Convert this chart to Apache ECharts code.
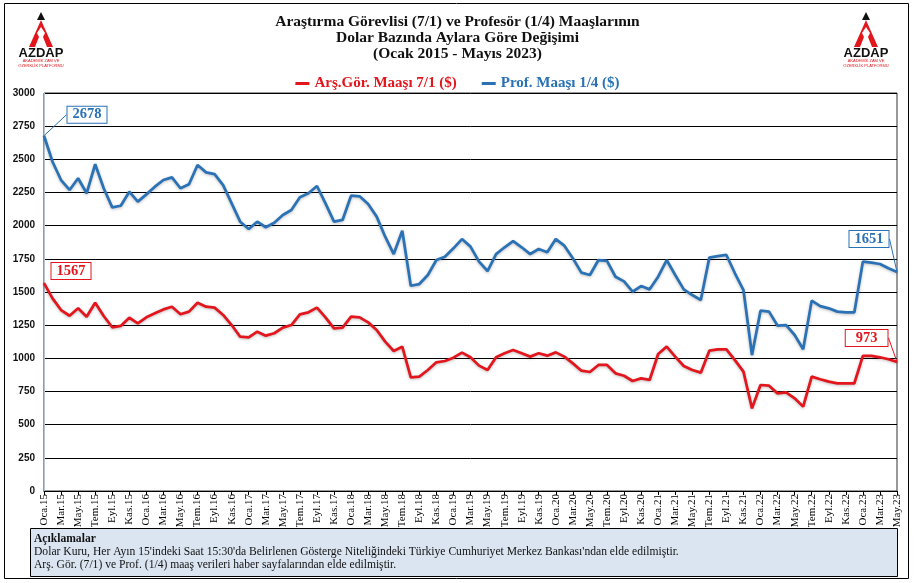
<!DOCTYPE html>
<html>
<head>
<meta charset="utf-8">
<script src="https://cdn.jsdelivr.net/npm/echarts@6/dist/echarts.min.js"></script>
<style>html,body{margin:0;padding:0;background:#fff;}#c{width:915px;height:583px;}</style>
</head>
<body>
<div id="c"></div>
<script>
var monthNames = ['Oca','Şub','Mar','Nis','May','Haz','Tem','Ağu','Eyl','Eki','Kas','Ara'];
var years = ['15','16','17','18','19','20','21','22','23'];
var yTicks = [0,250,500,750,1000,1250,1500,1750,2000,2250,2500,2750,3000];
var seriesNames = ['Arş.Gör. Maaşı 7/1 ($)', 'Prof. Maaşı 1/4 ($)'];
var arsGor = [1567,1452,1364,1321,1377,1314,1419,1319,1234,1244,
  1306,1264,1309,1339,1369,1389,1332,1352,1419,1389,
  1382,1327,1251,1163,1158,1201,1171,1189,1231,1251,
  1332,1347,1382,1309,1226,1231,1314,1309,1271,1214,
  1126,1055,1088,857,862,912,970,980,1005,1043,
  1008,945,912,1008,1038,1063,1038,1013,1038,1020,
  1045,1013,962,907,897,950,950,887,869,829,
  849,837,1033,1088,1013,942,912,892,1058,1068,
  1068,987,900,623,799,794,736,744,699,636,
  862,842,824,812,812,812,1018,1018,1008,993,
  973];
var prof = [2678,2482,2344,2269,2357,2244,2463,2282,2138,2150,
  2256,2181,2236,2294,2344,2364,2282,2312,2457,2402,
  2389,2306,2168,2030,1975,2030,1988,2022,2080,2118,
  2214,2244,2299,2168,2030,2043,2226,2221,2163,2068,
  1917,1786,1962,1547,1560,1628,1741,1766,1829,1899,
  1842,1729,1658,1786,1837,1884,1837,1786,1824,1799,
  1899,1849,1754,1646,1628,1741,1734,1615,1580,1502,
  1545,1520,1615,1741,1628,1520,1477,1440,1759,1771,
  1779,1641,1515,1025,1359,1352,1246,1251,1176,1068,
  1435,1394,1377,1352,1347,1347,1729,1721,1711,1679,
  1651];

var categories = [];
years.forEach(function (y) {
  monthNames.forEach(function (m) {
    if (categories.length < arsGor.length) categories.push(m + '.' + y);
  });
});

var RED = '#e3161d';
var BLUE = '#2a72b5';
var SERIF = '"Liberation Serif", "DejaVu Serif", serif';

function endLabel(color, pos, pad) {
  return {
    show: true, position: pos, distance: 5,
    color: color, fontFamily: SERIF, fontWeight: 'bold', fontSize: 14.5,
    backgroundColor: '#fff', borderColor: color, borderWidth: 1,
    padding: [1, pad, 0, pad]
  };
}

function buildData(values, color, firstLine, lastLine, firstPad, lastPad) {
  return values.map(function (v, i) {
    var isFirst = i === 0, isLast = i === values.length - 1;
    if (isFirst || isLast) {
      return {
        value: v, symbol: 'circle', symbolSize: 1,
        itemStyle: { color: color },
        label: endLabel(color, isFirst ? 'right' : 'left', isFirst ? firstPad : lastPad),
        labelLine: { show: isFirst ? firstLine : lastLine, lineStyle: { color: color, width: 1 } }
      };
    }
    return v;
  });
}

function logo(cx) {
  return {
    type: 'group', children: [
      { type: 'polygon', shape: { points: [[cx, 12], [cx - 4, 20], [cx + 4, 20]] }, style: { fill: '#111' } },
      { type: 'polygon', shape: { points: [[cx, 20], [cx - 12, 47], [cx - 6, 47], [cx - 2, 37], [cx - 4, 33], [cx, 27], [cx + 4, 33], [cx + 2, 37], [cx + 6, 47], [cx + 12, 47]] }, style: { fill: '#e3161d' } },
      { type: 'text', style: { x: cx, y: 53, text: 'AZDAP', fill: '#111', font: 'bold 13px "Liberation Sans", Arial, sans-serif', textAlign: 'center', textVerticalAlign: 'middle' } },
      { type: 'text', style: { x: cx, y: 61, text: 'AKADEMİK ZAM VE', fill: '#e3161d', font: '4px "Liberation Sans", sans-serif', textAlign: 'center', textVerticalAlign: 'middle' } },
      { type: 'text', style: { x: cx, y: 66, text: 'ÖZERKLİK PLATFORMU', fill: '#e3161d', font: '4px "Liberation Sans", sans-serif', textAlign: 'center', textVerticalAlign: 'middle' } }
    ]
  };
}

var chart = echarts.init(document.getElementById('c'), null, { renderer: 'canvas' });
chart.setOption({
  backgroundColor: '#fff',
  animation: false,
  title: {
    text: 'Araştırma Görevlisi (7/1) ve Profesör (1/4) Maaşlarının\nDolar Bazında Aylara Göre Değişimi\n(Ocak 2015 - Mayıs 2023)',
    left: 'center', top: 14, padding: 0,
    textStyle: { fontFamily: SERIF, fontWeight: 'bold', fontSize: 15.5, lineHeight: 16, color: '#111', align: 'center' }
  },
  legend: {
    top: 71, left: 'center', itemWidth: 14, itemHeight: 3, itemGap: 25, icon: 'rect',
    textStyle: { fontFamily: SERIF, fontWeight: 'bold', fontSize: 15 },
    data: [
      { name: seriesNames[0], textStyle: { color: RED } },
      { name: seriesNames[1], textStyle: { color: BLUE } }
    ]
  },
  grid: { left: 44, right: 18, top: 93, bottom: 92, show: true, borderColor: '#333', borderWidth: 1 },
  xAxis: {
    type: 'category', data: categories, boundaryGap: false,
    axisLine: { show: true, lineStyle: { color: '#000', width: 1 } },
    axisTick: { show: true, interval: 1, length: 4, lineStyle: { color: '#000' } },
    axisLabel: { interval: 1, rotate: 90, margin: 3, fontFamily: SERIF, fontSize: 11, color: '#000' },
    splitLine: { show: false }
  },
  yAxis: {
    type: 'value', min: yTicks[0], max: yTicks[yTicks.length - 1], interval: yTicks[1] - yTicks[0],
    axisLine: { show: true, lineStyle: { color: '#b8c4d0' } },
    axisTick: { show: false },
    axisLabel: { fontFamily: '"Liberation Sans", Arial, sans-serif', fontWeight: 'bold', fontSize: 10, color: '#111', margin: 9,
      formatter: function (v) { return String(v); } },
    splitLine: { show: true, lineStyle: { color: '#000', width: 1 } }
  },
  series: [
    {
      name: seriesNames[0], type: 'line', data: buildData(arsGor, RED, false, true, 5, 10),
      symbol: 'none', color: RED,
      lineStyle: { color: RED, width: 2.75, shadowColor: 'rgba(0,0,0,0.25)', shadowBlur: 3, shadowOffsetY: 1 },
      labelLayout: function (p) {
        if (p.dataIndex === 0) return { dx: 2, dy: -12 };
        return { dx: -4, dy: -24 };
      }
    },
    {
      name: seriesNames[1], type: 'line', data: buildData(prof, BLUE, true, true, 5, 5),
      symbol: 'none', color: BLUE,
      lineStyle: { color: BLUE, width: 2.75, shadowColor: 'rgba(0,0,0,0.25)', shadowBlur: 3, shadowOffsetY: 1 },
      labelLayout: function (p) {
        if (p.dataIndex === 0) return { dx: 18, dy: -21 };
        return { dx: -3, dy: -33 };
      }
    }
  ],
  graphic: [
    { type: 'rect', silent: true, z: -1, shape: { x: 4.5, y: 3.5, width: 904, height: 575 }, style: { fill: 'none', stroke: '#000', lineWidth: 1 } },
    logo(41),
    logo(866),
    { type: 'rect', shape: { x: 30.5, y: 528.5, width: 867, height: 48 }, style: { fill: '#dbe5f1', stroke: '#000', lineWidth: 1 } },
    { type: 'text', style: { x: 34, y: 539, text: 'Açıklamalar', fill: '#111', font: 'bold 11.6px ' + SERIF, textVerticalAlign: 'middle' } },
    { type: 'text', style: { x: 34, y: 552, text: "Dolar Kuru, Her Ayın 15'indeki Saat 15:30'da Belirlenen Gösterge Niteliğindeki Türkiye Cumhuriyet Merkez Bankası'ndan elde edilmiştir.", fill: '#111', font: '11.6px ' + SERIF, textVerticalAlign: 'middle' } },
    { type: 'text', style: { x: 34, y: 565, text: 'Arş. Gör. (7/1) ve Prof. (1/4) maaş verileri haber sayfalarından elde edilmiştir.', fill: '#111', font: '11.6px ' + SERIF, textVerticalAlign: 'middle' } }
  ]
});
</script>
</body>
</html>
